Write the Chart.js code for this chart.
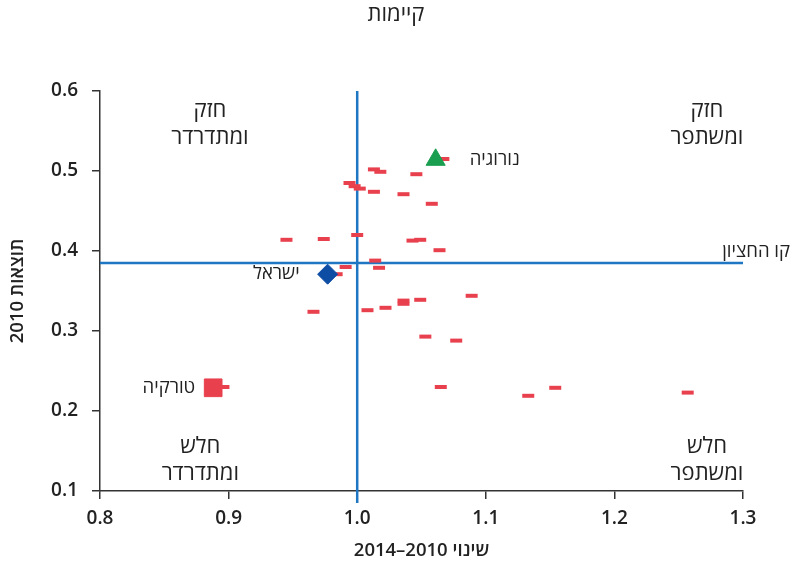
<!DOCTYPE html>
<html lang="he" dir="rtl">
<head>
<meta charset="utf-8">
<script src="https://cdn.jsdelivr.net/npm/chart.js@4"></script>
<style>
  html, body { margin: 0; padding: 0; background: #fff; }
  #wrap { width: 792px; height: 565px; }
</style>
</head>
<body>
<div id="wrap"><canvas id="sustain" width="792" height="565"></canvas></div>
<script>
(function(){

    // all countries: change 2010-2014 (x) vs outcome 2010 (y)
    const dashX = [1.013, 1.018, 1.046, 1.067, 0.994, 0.998, 1.002, 1.013, 1.036, 1.058,
                   0.945, 0.974, 1.000, 1.043, 1.049, 1.064, 1.014, 0.991, 1.017, 0.984,
                   0.966, 1.008, 1.022, 1.036, 1.036, 1.049, 1.089, 1.053, 1.077, 1.065,
                   1.133, 1.154, 1.257, 0.896];
    const dashY = [0.502, 0.499, 0.496, 0.515, 0.485, 0.481, 0.478, 0.474, 0.471, 0.459,
                   0.414, 0.415, 0.420, 0.413, 0.414, 0.401, 0.388, 0.380, 0.379, 0.371,
                   0.324, 0.326, 0.329, 0.338, 0.334, 0.339, 0.344, 0.293, 0.288, 0.230,
                   0.219, 0.229, 0.223, 0.230];

    // highlighted countries
    const hlNames  = ['נורוגיה', 'ישראל', 'טורקיה'];
    const hlX      = [1.061, 0.977, 0.888];
    const hlY      = [0.514, 0.371, 0.229];

    const medianY = 0.385;   // קו החציון
    const medianX = 1.0;     // no change

    const xTicks = [0.8, 0.9, 1.0, 1.1, 1.2, 1.3];
    const yTicks = [0.1, 0.2, 0.3, 0.4, 0.5, 0.6];

    const title = 'קיימות';
    const xTitle = 'שינוי 2010–2014';
    const yTitle = 'תוצאות 2010';
    const medianLabel = 'קו החציון';
    const quadrants = [
        { lines: ['חזק', 'ומתדרדר'], x: 0.8855, y: 0.559 },
        { lines: ['חזק', 'ומשתפר'],  x: 1.272,  y: 0.559 },
        { lines: ['חלש', 'ומתדרדר'], x: 0.878,  y: 0.139 },
        { lines: ['חלש', 'ומשתפר'],  x: 1.272,  y: 0.139 }
    ];

    const FONT = '"Open Sans", "Liberation Sans", "DejaVu Sans", sans-serif';
    const INK = '#222';
    const BLUE = '#1f77c4';
    const RED = '#e9404e';

    const pts = (xs, ys) => xs.map((x, i) => ({ x, y: ys[i] }));

    const overlay = {
        id: 'overlay',
        beforeDatasetsDraw(chart) {
            const { ctx, scales: { x, y } } = chart;
            ctx.save();
            ctx.strokeStyle = BLUE;
            ctx.lineWidth = 2.5;
            ctx.beginPath();
            ctx.moveTo(x.getPixelForValue(0.8), y.getPixelForValue(medianY));
            ctx.lineTo(x.getPixelForValue(1.3), y.getPixelForValue(medianY));
            ctx.moveTo(x.getPixelForValue(medianX), y.top);
            ctx.lineTo(x.getPixelForValue(medianX), y.bottom + 12);
            ctx.stroke();
            ctx.restore();
        },
        afterDatasetsDraw(chart) {
            const { ctx, scales: { x, y } } = chart;
            ctx.save();
            ctx.direction = 'rtl';
            ctx.fillStyle = INK;
            ctx.textBaseline = 'middle';

            ctx.font = '500 22px ' + FONT;
            ctx.textAlign = 'center';
            ctx.fillText(title, 396, 15);

            quadrants.forEach(q => {
                const cx = x.getPixelForValue(q.x);
                const cy = y.getPixelForValue(q.y);
                ctx.fillText(q.lines[0], cx, cy - 13);
                ctx.fillText(q.lines[1], cx, cy + 14);
            });

            ctx.font = '500 18.5px ' + FONT;
            ctx.textAlign = 'right';
            ctx.fillText(medianLabel, x.right + 47, y.getPixelForValue(medianY) - 11);

            // country labels
            ctx.textAlign = 'left';
            ctx.fillText(hlNames[0], x.getPixelForValue(hlX[0]) + 34, y.getPixelForValue(hlY[0]));
            ctx.textAlign = 'right';
            ctx.fillText(hlNames[1], x.getPixelForValue(hlX[1]) - 28, y.getPixelForValue(hlY[1]));
            ctx.fillText(hlNames[2], x.getPixelForValue(hlX[2]) - 18, y.getPixelForValue(hlY[2]));
            ctx.restore();
        }
    };

    const axisCommon = {
        type: 'linear',
        grid: { drawOnChartArea: false, drawTicks: true, tickLength: 8, color: '#333', lineWidth: 1.5 },
        border: { display: true, color: '#333', width: 1.5 },
        title: { display: true, color: INK, font: { family: FONT, size: 18.5, weight: '600' } }
    };

    const tickFont = { family: FONT, size: 19, weight: '600' };

    new Chart(document.getElementById('sustain'), {
        type: 'scatter',
        data: {
            datasets: [
                { data: [pts(hlX, hlY)[0]], pointStyle: 'triangle', radius: 11, backgroundColor: '#1a9e50', borderColor: '#1a9e50', borderWidth: 1, order: 1 },
                { data: [pts(hlX, hlY)[1]], pointStyle: 'rectRot', radius: 10, backgroundColor: '#0e4da4', borderColor: '#0e4da4', borderWidth: 1, order: 1 },
                { data: [pts(hlX, hlY)[2]], pointStyle: 'rect', radius: 12.5, backgroundColor: RED, borderColor: RED, borderWidth: 1, order: 1 },
                { data: pts(dashX, dashY), pointStyle: 'line', radius: 6, borderColor: RED, borderWidth: 4, order: 2 }
            ]
        },
        options: {
            responsive: false,
            animation: false,
            devicePixelRatio: 1,
            layout: { padding: { top: 91, right: 49, left: 0, bottom: 0 } },
            plugins: { legend: { display: false }, tooltip: { enabled: false }, title: { display: false } },
            scales: {
                x: {
                    ...axisCommon,
                    min: 0.8, max: 1.3,
                    afterFit: s => { s.height = 74; },
                    afterBuildTicks: s => { s.ticks = xTicks.map(v => ({ value: v })); },
                    ticks: { padding: 8, color: INK, font: tickFont, callback: v => v.toFixed(1) },
                    title: { ...axisCommon.title, text: xTitle, padding: { top: 0, bottom: 3 } }
                },
                y: {
                    ...axisCommon,
                    min: 0.1, max: 0.6,
                    afterFit: s => { s.width = 100; },
                    afterBuildTicks: s => { s.ticks = yTicks.map(v => ({ value: v })); },
                    ticks: { padding: 14, color: INK, font: tickFont, callback: v => v.toFixed(1) },
                    title: { ...axisCommon.title, text: yTitle, padding: { top: 7, bottom: 0 } }
                }
            }
        },
        plugins: [overlay]
    });
})()
</script>
</body>
</html>
